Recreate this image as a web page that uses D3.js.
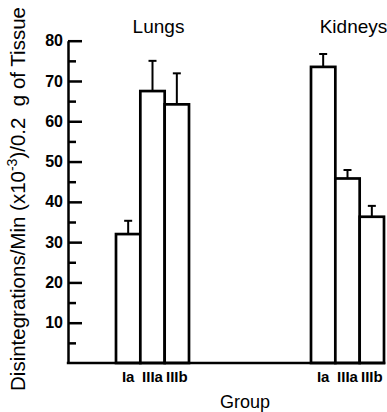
<!DOCTYPE html>
<html>
<head>
<meta charset="utf-8">
<script src="https://cdn.jsdelivr.net/npm/d3@7"></script>
<style>
  body { margin: 0; background: #fff; }
  svg { display: block; font-family: "Liberation Sans", Arial, Helvetica, sans-serif; }
  .axis .domain { stroke: #000; stroke-width: 2.5px; }
  .axis .tick line { stroke: #000; stroke-width: 2.5px; }
  .axis .tick text { font-size: 16px; font-weight: bold; fill: #000; }
</style>
</head>
<body>
<div class="chart"></div>
<script>
const organs = ["Lungs", "Kidneys"];
const groups = ["Ia", "IIIa", "IIIb"];
const lungsMeans = [32, 67.5, 64.2];
const lungsErrors = [3.3, 7.5, 7.7];
const kidneysMeans = [73.5, 45.8, 36.3];
const kidneysErrors = [3.2, 2.1, 2.7];
const majorTicks = [10, 20, 30, 40, 50, 60, 70, 80];
const minorTicks = [5, 15, 25, 35, 45, 55, 65, 75];

const width = 387, height = 412;

const svg = d3.select(".chart").append("svg")
    .attr("width", width)
    .attr("height", height);

const y = d3.scaleLinear()
    .domain([0, 80])
    .range([363, 40.7]);

const x0 = d3.scalePoint()
    .domain(organs)
    .range([152.5, 347.5]);

const x1 = d3.scaleBand()
    .domain(groups)
    .range([-36.5, 36.5]);

const axisX = 68;

const data = [];
organs.forEach((o, i) => {
    const means = i === 0 ? lungsMeans : kidneysMeans;
    const errs = i === 0 ? lungsErrors : kidneysErrors;
    groups.forEach((g, j) => data.push({organ: o, group: g, mean: means[j], err: errs[j]}));
});

const barX = d => x0(d.organ) + x1(d.group);
const barMid = d => barX(d) + x1.bandwidth() / 2;

// minor ticks
svg.append("g")
    .attr("class", "axis")
    .attr("transform", "translate(" + axisX + ",0)")
    .call(d3.axisLeft(y).tickValues(minorTicks).tickSize(-8).tickSizeOuter(0).tickFormat(""));

// major ticks with labels
svg.append("g")
    .attr("class", "axis")
    .attr("transform", "translate(" + axisX + ",0)")
    .call(d3.axisLeft(y).tickValues(majorTicks).tickSize(-14).tickSizeOuter(0).tickPadding(5))
    .call(g => g.select(".domain").remove());

// error bars
const err = svg.append("g").attr("class", "errors");
err.selectAll("line.stem")
    .data(data)
    .enter().append("line")
    .attr("class", "stem")
    .attr("x1", barMid).attr("x2", barMid)
    .attr("y1", d => y(d.mean))
    .attr("y2", d => y(d.mean + d.err))
    .attr("stroke", "#000").attr("stroke-width", 2);
err.selectAll("line.cap")
    .data(data)
    .enter().append("line")
    .attr("class", "cap")
    .attr("x1", d => barMid(d) - 4).attr("x2", d => barMid(d) + 4)
    .attr("y1", d => y(d.mean + d.err))
    .attr("y2", d => y(d.mean + d.err))
    .attr("stroke", "#000").attr("stroke-width", 2);

// bars
svg.append("g")
    .attr("class", "bars")
    .selectAll("rect")
    .data(data)
    .enter().append("rect")
    .attr("x", barX)
    .attr("y", d => y(d.mean))
    .attr("width", x1.bandwidth())
    .attr("height", d => y(0) - y(d.mean))
    .attr("fill", "#fff")
    .attr("stroke", "#000")
    .attr("stroke-width", 2.7);

// baseline
svg.append("line")
    .attr("x1", axisX - 1.2)
    .attr("x2", x0(organs[1]) + x1.range()[1] + 1.3)
    .attr("y1", y(0)).attr("y2", y(0))
    .attr("stroke", "#000").attr("stroke-width", 2.7);

// group labels
svg.append("g")
    .selectAll("text")
    .data(data)
    .enter().append("text")
    .attr("x", barMid)
    .attr("y", y(0) + 19)
    .attr("text-anchor", "middle")
    .style("font-size", "15px")
    .style("font-weight", "bold")
    .text(d => d.group);

// organ titles
svg.append("g")
    .selectAll("text")
    .data(organs)
    .enter().append("text")
    .attr("x", d => x0(d) + 6)
    .attr("y", 33)
    .attr("text-anchor", "middle")
    .style("font-size", "19px")
    .text(d => d);

svg.append("text")
    .attr("x", 245)
    .attr("y", 408)
    .attr("text-anchor", "middle")
    .style("font-size", "18px")
    .text("Group");

const ylab = svg.append("text")
    .attr("transform", "translate(25,199) rotate(-90)")
    .attr("text-anchor", "middle")
    .style("white-space", "pre")
    .style("font-size", "20.5px");
ylab.append("tspan").text("Disintegrations/Min (x10");
ylab.append("tspan").attr("dy", -8).style("font-size", "14px").text("-3");
ylab.append("tspan").attr("dy", 8).text(")/0.2  g of Tissue");
</script>
</body>
</html>
